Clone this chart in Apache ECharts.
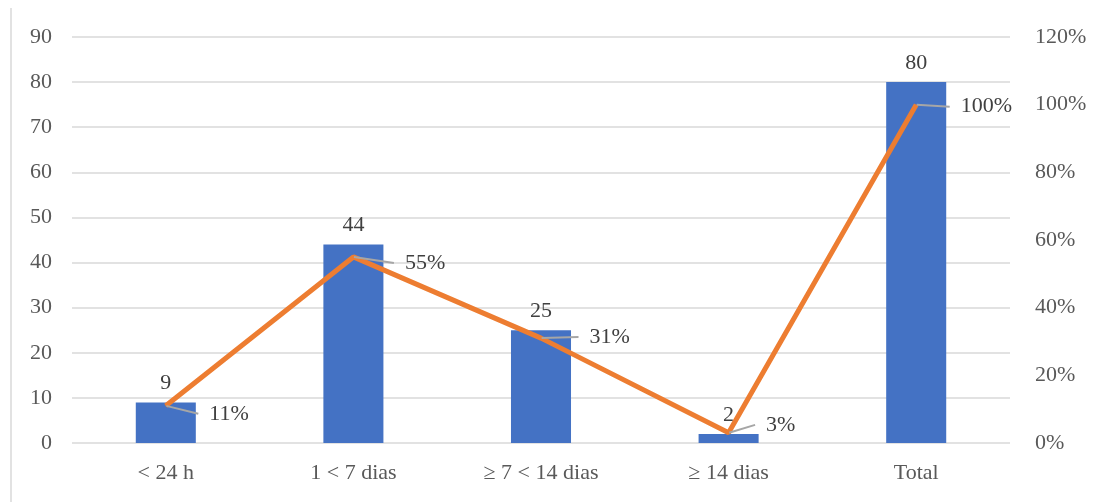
<!DOCTYPE html>
<html>
<head>
<meta charset="utf-8">
<script src="https://cdn.jsdelivr.net/npm/echarts@6/dist/echarts.min.js"></script>
<style>
  html, body { margin: 0; padding: 0; background: #fff; }
  #chart { width: 1098px; height: 502px; }
</style>
</head>
<body>
<div id="chart"></div>
<script>
// Categories (time ranges) and their counts
const categories = ['< 24 h', '1 < 7 dias', '≥ 7 < 14 dias', '≥ 14 dias', 'Total'];
const counts = [9, 44, 25, 2, 80];
// Share of the total, in percent
const shares = [11, 55, 31, 3, 100];
// Label offsets for the percentage labels (dx, dy)
const shareLabelOffsets = [[27, 8], [35, 6], [32, -1], [21, -8], [28, 2]];

const FONT = '"Liberation Serif", "Times New Roman", serif';
const FS = 22;
const chart = echarts.init(document.getElementById('chart'));

chart.setOption({
  animation: false,
  textStyle: { fontFamily: FONT },
  graphic: [{
    type: 'line',
    shape: { x1: 11, y1: 8, x2: 11, y2: 502 },
    style: { stroke: '#d9d9d9', lineWidth: 1.5 }
  }],
  grid: { left: 72, right: 88, top: 37, bottom: 59 },
  xAxis: {
    type: 'category',
    data: categories,
    axisLine: { show: false },
    axisTick: { show: false },
    axisLabel: { color: '#595959', fontSize: FS, fontFamily: FONT, margin: 19 }
  },
  yAxis: [{
    type: 'value', min: 0, max: 90, interval: 10,
    axisLine: { show: false }, axisTick: { show: false },
    axisLabel: { color: '#595959', fontSize: FS, fontFamily: FONT, margin: 20 },
    splitLine: { lineStyle: { color: '#d9d9d9', width: 1.5 } }
  }, {
    type: 'value', min: 0, max: 120, interval: 20,
    axisLine: { show: false }, axisTick: { show: false },
    axisLabel: { color: '#595959', fontSize: FS, fontFamily: FONT, margin: 25, formatter: '{value}%' },
    splitLine: { show: false }
  }],
  series: [{
    type: 'bar',
    data: counts,
    barWidth: '32%',
    itemStyle: { color: '#4472C4' },
    label: { show: true, position: 'top', distance: 8, color: '#404040', fontSize: FS, fontFamily: FONT }
  }, {
    type: 'line',
    yAxisIndex: 1,
    data: shares,
    symbol: 'circle',
    symbolSize: 1,
    showSymbol: true,
    itemStyle: { color: '#ED7D31' },
    lineStyle: { color: '#ED7D31', width: 5 },
    label: {
      show: true, position: 'right', distance: 5,
      color: '#404040', fontSize: FS, fontFamily: FONT,
      // leading spaces keep a small gap between the leader line and the text
      formatter: p => '\u00a0\u00a0' + p.value + '%'
    },
    labelLine: { show: true, lineStyle: { color: '#A6A6A6', width: 2 } },
    labelLayout: p => ({ dx: shareLabelOffsets[p.dataIndex][0], dy: shareLabelOffsets[p.dataIndex][1] })
  }]
});
</script>
</body>
</html>
